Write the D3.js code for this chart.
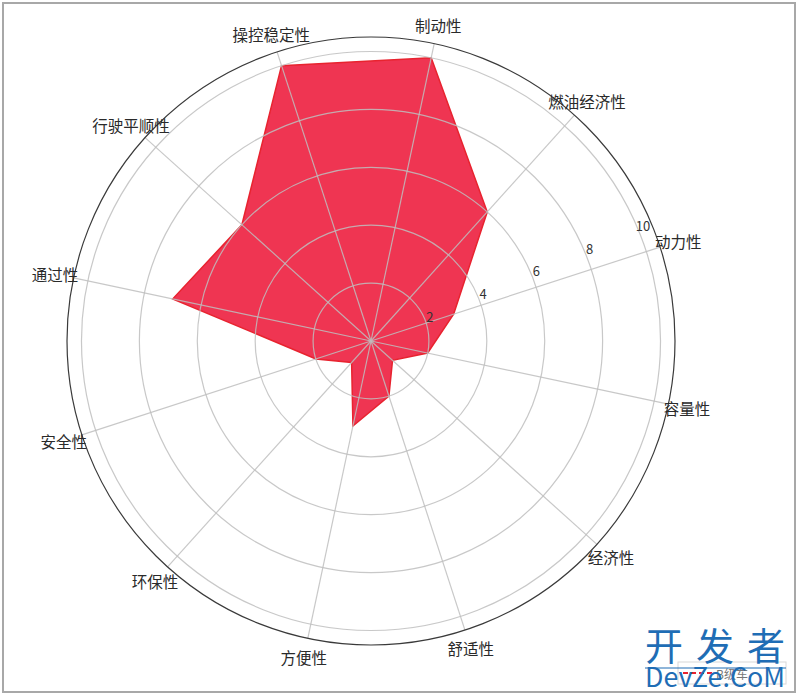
<!DOCTYPE html>
<html>
<head>
<meta charset="utf-8">
<script src="https://cdn.jsdelivr.net/npm/d3@7"></script>
<style>
  html, body { margin: 0; padding: 0; background: #fff; }
  svg { display: block; }
  text { font-family: "Noto Sans CJK SC", "Noto Sans", sans-serif; }
</style>
</head>
<body>
<svg id="chart" width="800" height="696"></svg>
<script>
// ---- data ----
const categories = ['动力性','燃油经济性','制动性','操控稳定性','行驶平顺性','通过性','安全性','环保性','方便性','舒适性','经济性','容量性'];
const values = [3, 6, 10, 10, 6, 7, 2, 1, 3, 2, 1, 2];
const rTicks = [2, 4, 6, 8, 10];
const rMax = 10.5;
const startAngleDeg = 18;
const seriesName = 'B级车';

// ---- layout ----
const W = 800, H = 696;
const cx = 371, cy = 341, R = 304;

const svg = d3.select('#chart');

// figure border
svg.append('rect').attr('x', 3).attr('y', 3).attr('width', 792).attr('height', 689)
  .attr('fill', '#fff').attr('stroke', '#a8a8a8').attr('stroke-width', 2);

const g = svg.append('g').attr('transform', `translate(${cx},${cy})`);

const r = d3.scaleLinear().domain([0, rMax]).range([0, R]);
const ang = d3.scaleLinear().domain([0, categories.length]).range([startAngleDeg, startAngleDeg + 360]);
const toRad = d => d * Math.PI / 180;
const px = (deg, rad) => rad * Math.cos(toRad(deg));
const py = (deg, rad) => -rad * Math.sin(toRad(deg));

// filled polygon (d3 radial: angle measured clockwise from 12 o'clock)
const radial = d3.lineRadial()
  .angle((d, i) => Math.PI / 2 - toRad(ang(i)))
  .radius(d => r(d))
  .curve(d3.curveLinearClosed);

g.append('path')
  .attr('d', radial(values))
  .attr('fill', '#ef3552')
  .attr('stroke', '#e8232f')
  .attr('stroke-width', 1.5)
  .attr('stroke-linejoin', 'miter');

// grid rings (on top of fill)
g.selectAll('circle.ring').data(rTicks).join('circle')
  .attr('class', 'ring')
  .attr('r', d => r(d))
  .attr('fill', 'none')
  .attr('stroke', 'rgba(190,190,190,0.85)')
  .attr('stroke-width', 1.2);

// spokes
g.selectAll('line.spoke').data(categories).join('line')
  .attr('class', 'spoke')
  .attr('x1', 0).attr('y1', 0)
  .attr('x2', (d, i) => px(ang(i), R))
  .attr('y2', (d, i) => py(ang(i), R))
  .attr('stroke', 'rgba(190,190,190,0.85)')
  .attr('stroke-width', 1.2);

// outer circle
g.append('circle').attr('r', R).attr('fill', 'none')
  .attr('stroke', '#3a3a3a').attr('stroke-width', 1.2);

// radial tick labels
const rLabelAngle = 23;
g.selectAll('text.rtick').data(rTicks).join('text')
  .attr('class', 'rtick')
  .attr('x', d => px(rLabelAngle, r(d) + 6))
  .attr('y', d => py(rLabelAngle, r(d) + 6))
  .attr('text-anchor', 'middle')
  .attr('dominant-baseline', 'central')
  .attr('font-size', 13)
  .attr('fill', '#333')
  .text(d => d);

// category labels
const labelR = R + 19;
g.selectAll('text.cat').data(categories).join('text')
  .attr('class', 'cat')
  .attr('x', (d, i) => px(ang(i), labelR))
  .attr('y', (d, i) => py(ang(i), labelR))
  .attr('text-anchor', 'middle')
  .attr('dominant-baseline', 'central')
  .attr('font-size', 15.5)
  .attr('fill', '#2a2a2a')
  .text(d => d);

// legend (bottom right, mostly covered by watermark)
const lg = svg.append('g').attr('transform', 'translate(678,662)');
lg.append('rect').attr('x', 0).attr('y', 0).attr('width', 108).attr('height', 22)
  .attr('fill', '#fff').attr('stroke', '#d8d8d8').attr('stroke-width', 1);
lg.append('line').attr('x1', 5).attr('x2', 34).attr('y1', 11).attr('y2', 11)
  .attr('stroke', '#e8232f').attr('stroke-width', 2).attr('stroke-dasharray', '5,3');
lg.append('text').attr('x', 38).attr('y', 11).attr('dominant-baseline', 'central')
  .attr('font-size', 12).attr('fill', '#777').text(seriesName);

// watermark
const wm = svg.append('g');
wm.append('text').attr('x', 645).attr('y', 643).attr('dominant-baseline', 'central')
  .attr('font-size', 38).attr('fill', '#1f6db5')
  .attr('textLength', 140).attr('lengthAdjust', 'spacing')
  .text('开发者');
wm.append('line').attr('x1', 645).attr('x2', 786).attr('y1', 668).attr('y2', 668)
  .attr('stroke', '#1f6db5').attr('stroke-width', 1);
wm.append('text').attr('x', 645).attr('y', 687)
  .attr('font-size', 27).attr('fill', '#1f6db5')
  .attr('font-family', '"Open Sans", "DejaVu Sans", sans-serif')
  .attr('textLength', 140).attr('lengthAdjust', 'spacingAndGlyphs')
  .text('DevZe.CoM');
</script>
</body>
</html>
